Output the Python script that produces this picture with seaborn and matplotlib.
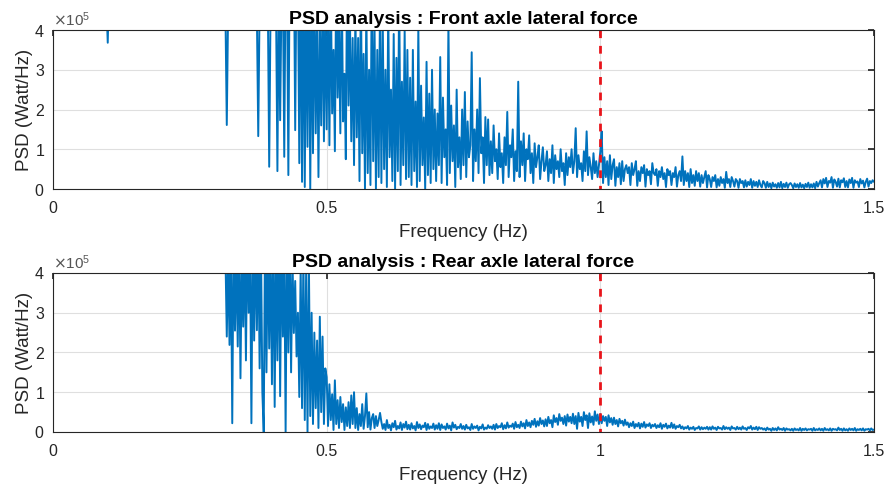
import numpy as np
import pandas as pd
import matplotlib
matplotlib.use("Agg")
import matplotlib.pyplot as plt
import seaborn as sns

# ---------------- data (PSD values in units of 1e3 Watt/Hz) ----------------
FREQ_STEP = 0.0025          # Hz between samples
ROW_SPAN = 0.05             # Hz covered by each row below
SCALE = 1e3

FRONT_ROWS = [
    [880, 910, 850, 870, 820, 790, 810, 760, 780, 740, 720, 750, 700, 690, 710, 680, 650, 670, 640, 660],
    [630, 610, 640, 600, 590, 620, 580, 560, 590, 550, 540, 570, 530, 520, 550, 510, 500, 530, 490, 470],
    [368, 520, 480, 510, 470, 500, 460, 490, 450, 480, 470, 440, 460, 500, 450, 470, 440, 480, 450, 460],
    [470, 450, 480, 440, 460, 430, 470, 450, 440, 460, 430, 450, 470, 440, 460, 480, 450, 430, 460, 440],
    [450, 470, 440, 460, 430, 450, 480, 440, 460, 430, 450, 470, 440, 430, 460, 450, 440, 470, 450, 430],
    [460, 440, 450, 470, 430, 460, 440, 450, 470, 430, 440, 460, 450, 430, 470, 440, 460, 450, 430, 440],
    [450, 430, 460, 440, 470, 430, 450, 161, 460, 440, 430, 470, 450, 440, 460, 430, 470, 450, 440, 460],
    [440, 460, 430, 450, 470, 440, 430, 460, 450, 440, 133, 470, 450, 430, 460, 440, 450, 470, 56, 460],
    [470, 450, 480, 460, 45, 520, 173, 490, 510, 81, 560, 530, 35, 600, 580, 520, 610, 148, 590, 540],
    [65, 620, 18, 560, 5, 540, 106, 600, 0, 480, 90, 520, 140, 450, 30, 430, 160, 510, 120, 470],
    [150, 480, 110, 520, 190, 350, 95, 560, 230, 410, 140, 530, 170, 290, 75, 600, 210, 440, 120, 380],
    [60, 450, 130, 380, 20, 520, 90, 340, 0, 470, 40, 300, 10, 560, 70, 410, 0, 350, 30, 480],
    [15, 420, 50, 300, 5, 460, 80, 250, 20, 390, 0, 330, 45, 510, 10, 270, 60, 400, 25, 350],
    [30, 280, 10, 350, 45, 220, 5, 410, 20, 260, 60, 180, 0, 320, 35, 240, 15, 300, 50, 200],
    [20, 190, 60, 332, 15, 230, 80, 150, 10, 420, 40, 210, 70, 160, 5, 250, 55, 130, 25, 200],
    [60, 244, 30, 170, 80, 110, 344, 20, 150, 70, 200, 40, 279, 90, 130, 15, 181, 60, 175, 35],
    [120, 40, 160, 70, 100, 25, 140, 55, 90, 15, 130, 60, 194, 30, 110, 80, 150, 20, 95, 45],
    [270, 30, 120, 60, 140, 20, 100, 75, 135, 40, 90, 15, 115, 55, 80, 110, 25, 70, 105, 45],
    [60, 95, 20, 75, 40, 110, 15, 85, 50, 70, 30, 100, 45, 65, 10, 90, 35, 80, 55, 100],
    [40, 70, 153, 30, 85, 50, 65, 20, 95, 45, 145, 35, 80, 55, 25, 90, 40, 70, 30, 60],
    [95, 145, 15, 80, 30, 70, 10, 85, 25, 60, 75, 8, 55, 30, 65, 12, 70, 20, 50, 60],
    [40, 55, 10, 65, 35, 50, 70, 8, 45, 20, 55, 40, 60, 6, 50, 35, 45, 12, 65, 40],
    [35, 50, 8, 45, 30, 55, 25, 40, 5, 50, 35, 45, 10, 40, 30, 55, 6, 35, 45, 20],
    [82, 10, 45, 20, 40, 5, 50, 15, 35, 8, 45, 20, 40, 6, 35, 15, 30, 45, 4, 35],
    [25, 5, 30, 20, 35, 4, 25, 8, 30, 15, 25, 3, 43, 15, 25, 5, 30, 20, 6, 25],
    [20, 3, 25, 15, 20, 4, 22, 6, 18, 10, 25, 3, 20, 8, 18, 5, 22, 10, 4, 20],
    [15, 3, 18, 5, 14, 2, 16, 6, 12, 3, 15, 4, 18, 2, 13, 5, 16, 3, 12, 15],
    [10, 2, 14, 5, 12, 3, 15, 4, 11, 2, 13, 5, 16, 3, 12, 4, 14, 2, 18, 6],
    [15, 22, 4, 25, 14, 28, 5, 20, 16, 30, 3, 24, 18, 6, 26, 4, 22, 17, 27, 5],
    [20, 4, 24, 15, 28, 3, 22, 16, 19, 5, 25, 14, 21, 4, 18, 26, 6, 20, 15, 22],
    [18],
]

REAR_ROWS = [
    [950, 920, 980, 900, 940, 870, 910, 860, 890, 850, 880, 830, 860, 820, 850, 800, 840, 790, 820, 780],
    [810, 770, 800, 760, 790, 740, 780, 730, 770, 720, 760, 710, 750, 700, 740, 690, 730, 680, 720, 670],
    [710, 660, 700, 650, 690, 640, 680, 630, 670, 620, 660, 610, 650, 600, 640, 590, 630, 580, 620, 570],
    [610, 560, 600, 550, 590, 540, 580, 530, 570, 520, 560, 510, 550, 500, 540, 490, 530, 480, 520, 470],
    [510, 460, 500, 450, 490, 440, 480, 430, 470, 420, 460, 440, 450, 430, 470, 420, 460, 440, 450, 430],
    [460, 420, 450, 430, 470, 410, 460, 440, 450, 420, 470, 430, 460, 410, 450, 440, 470, 420, 460, 430],
    [450, 430, 460, 440, 470, 420, 450, 240, 450, 219, 480, 22, 520, 255, 460, 215, 500, 135, 450, 265],
    [480, 180, 520, 300, 470, 22, 540, 230, 490, 256, 510, 160, 470, 100, 0, 530, 150, 500, 210, 460],
    [120, 520, 63, 480, 180, 550, 90, 500, 240, 470, 0, 530, 200, 480, 150, 440, 249, 380, 190, 300],
    [88, 420, 60, 450, 30, 410, 0, 430, 40, 300, 20, 250, 60, 230, 10, 290, 50, 240, 20, 160],
    [138, 15, 120, 30, 95, 5, 130, 20, 80, 10, 88, 25, 70, 5, 62, 15, 75, 10, 92, 20],
    [100, 10, 60, 5, 45, 15, 70, 8, 40, 97, 12, 50, 6, 35, 45, 10, 40, 15, 30, 48],
    [25, 8, 20, 5, 30, 10, 18, 4, 22, 12, 28, 6, 15, 9, 24, 5, 20, 11, 26, 7],
    [18, 6, 22, 9, 15, 4, 25, 10, 19, 7, 16, 12, 23, 5, 20, 8, 14, 10, 21, 6],
    [17, 8, 22, 5, 19, 10, 14, 6, 21, 9, 16, 4, 24, 11, 18, 7, 13, 10, 20, 8],
    [15, 6, 18, 9, 12, 5, 20, 8, 14, 10, 16, 4, 13, 9, 19, 6, 11, 8, 17, 10],
    [14, 8, 18, 6, 20, 10, 15, 12, 22, 7, 17, 9, 24, 11, 16, 13, 21, 8, 25, 12],
    [18, 10, 26, 14, 22, 9, 30, 15, 24, 12, 28, 18, 33, 13, 27, 16, 35, 20, 29, 14],
    [32, 15, 38, 22, 30, 12, 42, 25, 35, 18, 45, 28, 36, 20, 40, 16, 44, 26, 38, 22],
    [46, 20, 40, 8, 48, 26, 38, 15, 50, 30, 42, 10, 47, 24, 39, 18, 52, 28, 44, 20],
    [45, 22, 40, 28, 38, 15, 42, 24, 35, 18, 36, 20, 30, 14, 33, 22, 28, 16, 31, 18],
    [24, 12, 22, 15, 26, 10, 20, 14, 23, 9, 21, 13, 25, 11, 19, 15, 22, 10, 18, 14],
    [20, 10, 17, 12, 22, 8, 18, 13, 21, 9, 16, 11, 23, 10, 19, 8, 15, 12, 18, 9],
    [14, 7, 12, 9, 15, 6, 11, 8, 13, 5, 10, 9, 14, 6, 12, 7, 11, 8, 13, 6],
    [12, 6, 14, 8, 11, 5, 13, 9, 10, 6, 15, 7, 12, 8, 11, 5, 14, 9, 10, 6],
    [13, 7, 11, 6, 14, 8, 10, 5, 12, 9, 15, 6, 11, 7, 13, 5, 12, 8, 10, 6],
    [9, 4, 11, 6, 8, 3, 10, 5, 9, 4, 12, 6, 8, 5, 10, 3, 9, 6, 7, 4],
    [8, 3, 9, 5, 7, 4, 10, 3, 8, 5, 9, 4, 7, 6, 8, 3, 10, 4, 7, 5],
    [9, 4, 8, 3, 10, 5, 7, 4, 9, 3, 8, 6, 7, 4, 11, 5, 8, 3, 9, 4],
    [7, 3, 9, 5, 8, 4, 10, 3, 7, 5, 8, 4, 9, 3, 7, 6, 8, 4, 9, 5],
    [6],
]

TITLES = ["PSD analysis : Front axle lateral force", "PSD analysis : Rear axle lateral force"]
XLABEL = "Frequency (Hz)"
YLABEL = "PSD (Watt/Hz)"
MARK_FREQ = 1.0
XTICKS = [0, 0.5, 1, 1.5]
XTICKLABELS = ["0", "0.5", "1", "1.5"]
YTICKS = [0, 1e5, 2e5, 3e5, 4e5]


def rows_to_frame(rows):
    f, p = [], []
    for r, row in enumerate(rows):
        for i, v in enumerate(row):
            f.append(round(r * ROW_SPAN + i * FREQ_STEP, 6))
            p.append(v * SCALE)
    return pd.DataFrame({"freq": f, "psd": p})


front = rows_to_frame(FRONT_ROWS)
rear = rows_to_frame(REAR_ROWS)

# ---------------- style ----------------
sns.set_theme(style="white")
plt.rcParams["font.family"] = ["Liberation Sans", "DejaVu Sans"]
plt.rcParams.update({
    "axes.edgecolor": "#262626",
    "axes.linewidth": 0.8,
    "xtick.direction": "in",
    "ytick.direction": "in",
    "xtick.top": True,
    "ytick.right": True,
    "xtick.major.size": 4,
    "ytick.major.size": 4,
    "xtick.color": "#262626",
    "ytick.color": "#262626",
    "xtick.labelsize": 11.5,
    "ytick.labelsize": 11.5,
})

fig = plt.figure(figsize=(8.88, 4.88), dpi=100)
ax1 = fig.add_axes([0.0597, 0.6127, 0.9245, 0.3258])
ax2 = fig.add_axes([0.0597, 0.1148, 0.9245, 0.3258])

BLUE = "#0072BD"
for ax, df, title in [(ax1, front, TITLES[0]), (ax2, rear, TITLES[1])]:
    sns.lineplot(data=df, x="freq", y="psd", ax=ax, color=BLUE, linewidth=1.4,
                 estimator=None, sort=False)
    ax.axvline(MARK_FREQ, color="#E8141B", linestyle=(1.5, (2.8, 2.8)), linewidth=2.0)
    ax.set_xlim(0, 1.5)
    ax.set_ylim(0, 4e5)
    ax.set_xticks(XTICKS)
    ax.set_xticklabels(XTICKLABELS)
    ax.set_yticks(YTICKS)
    ax.ticklabel_format(axis="y", style="sci", scilimits=(0, 0), useMathText=True)
    ax.yaxis.get_offset_text().set_fontsize(11)
    ax.yaxis.get_offset_text().set_color("#555555")
    ax.grid(True, color="#DFDFDF", linewidth=0.8)
    ax.set_axisbelow(True)
    for s in ax.spines.values():
        s.set_visible(True)
        s.set_color("#262626")
    ax.set_title(title, fontsize=14, fontweight="bold", color="black", pad=4)
    ax.set_xlabel(XLABEL, fontsize=13.5, color="#262626", labelpad=6)
    ax.set_ylabel(YLABEL, fontsize=13.5, color="#262626", labelpad=1)
    ax.tick_params(axis="x", pad=8.5)
    ax.tick_params(axis="y", pad=6)

fig.savefig("out.png", dpi=100)
